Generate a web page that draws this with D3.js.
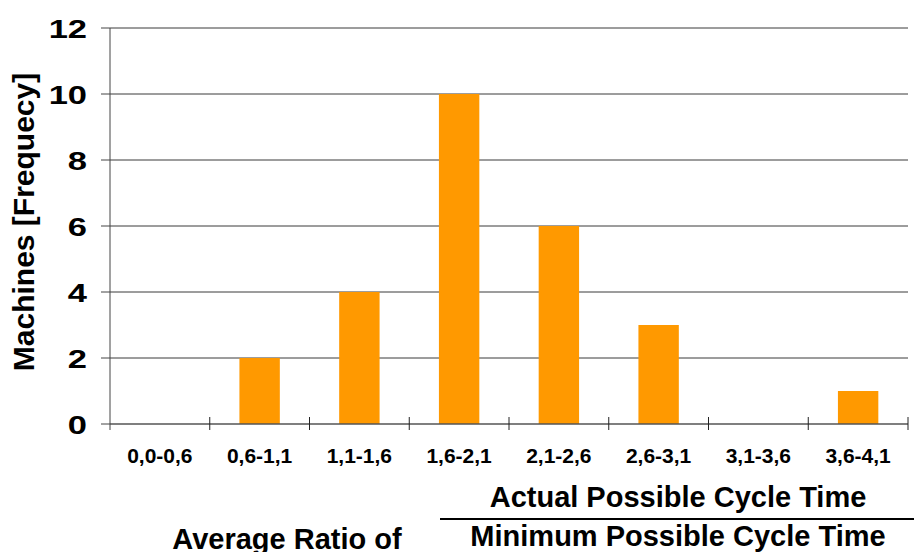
<!DOCTYPE html>
<html>
<head>
<meta charset="utf-8">
<script src="https://cdn.jsdelivr.net/npm/d3@7"></script>
<style>
  html, body { margin: 0; padding: 0; background: #fff; }
  svg { display: block; font-family: "Liberation Sans", Arial, sans-serif; font-weight: bold; }
</style>
</head>
<body>
<svg id="chart" width="914" height="552"></svg>
<script>
const categories = ["0,0-0,6", "0,6-1,1", "1,1-1,6", "1,6-2,1", "2,1-2,6", "2,6-3,1", "3,1-3,6", "3,6-4,1"];
const frequencies = [0, 2, 4, 10, 6, 3, 0, 1];
const yTicks = [0, 2, 4, 6, 8, 10, 12];
const yTitle = "Machines [Frequecy]";
const xTitleLeft = "Average Ratio of";
const xTitleNumerator = "Actual Possible Cycle Time";
const xTitleDenominator = "Minimum Possible Cycle Time";

const svg = d3.select("#chart");
const plotLeft = 110, plotRight = 908, plotTop = 28, plotBottom = 424;

const x = d3.scaleBand().domain(categories).range([plotLeft, plotRight]).padding(0);
const y = d3.scaleLinear().domain([0, 12]).range([plotBottom, plotTop]);

// gridlines
svg.append("g").selectAll("line").data(yTicks.filter(d => d > 0)).join("line")
  .attr("x1", plotLeft).attr("x2", plotRight)
  .attr("y1", d => y(d)).attr("y2", d => y(d))
  .attr("stroke", "#3a3a3a").attr("stroke-width", 1);

// bars
const barFrac = 0.405;
svg.append("g").selectAll("rect").data(frequencies.map((v, i) => ({c: categories[i], v}))).join("rect")
  .attr("x", d => x(d.c) + x.bandwidth() * (1 - barFrac) / 2)
  .attr("width", x.bandwidth() * barFrac)
  .attr("y", d => y(d.v))
  .attr("height", d => y(0) - y(d.v))
  .attr("fill", "#FF9900");

// x axis line
svg.append("line").attr("x1", plotLeft).attr("x2", plotRight).attr("y1", y(0)).attr("y2", y(0))
  .attr("stroke", "#555").attr("stroke-width", 1.5);
// x ticks at band boundaries
const bounds = categories.map(c => x(c)).concat([x(categories[categories.length - 1]) + x.bandwidth()]);
svg.append("g").selectAll("line").data(bounds.slice(1)).join("line")
  .attr("x1", d => d).attr("x2", d => d)
  .attr("y1", y(0) - 7).attr("y2", y(0) + 6)
  .attr("stroke", "#222").attr("stroke-width", 1);

// y axis line
svg.append("line").attr("x1", plotLeft).attr("x2", plotLeft).attr("y1", plotTop).attr("y2", y(0) + 6)
  .attr("stroke", "#444").attr("stroke-width", 1);
// y ticks
svg.append("g").selectAll("line").data(yTicks).join("line")
  .attr("x1", plotLeft - 9).attr("x2", plotLeft)
  .attr("y1", d => y(d)).attr("y2", d => y(d))
  .attr("stroke", "#444").attr("stroke-width", 1);

// y tick labels (wide, as in the reference)
svg.append("g").selectAll("text").data(yTicks).join("text")
  .attr("transform", d => `translate(87,${y(d) + 9.5}) scale(1.38,1)`)
  .attr("text-anchor", "end")
  .attr("font-size", 25)
  .text(d => d);

// x tick labels
svg.append("g").selectAll("text").data(categories).join("text")
  .attr("x", d => x(d) + x.bandwidth() / 2)
  .attr("y", 463)
  .attr("text-anchor", "middle")
  .attr("font-size", 21)
  .text(d => d);

// y title
svg.append("text")
  .attr("transform", "translate(34,222) rotate(-90)")
  .attr("text-anchor", "middle")
  .attr("font-size", 30)
  .text(yTitle);

// x titles
svg.append("text").attr("x", 678).attr("y", 507).attr("text-anchor", "middle")
  .attr("font-size", 29).text(xTitleNumerator);
svg.append("line").attr("x1", 440).attr("x2", 914).attr("y1", 519).attr("y2", 519)
  .attr("stroke", "#000").attr("stroke-width", 2);
svg.append("text").attr("x", 678).attr("y", 546).attr("text-anchor", "middle")
  .attr("font-size", 29).text(xTitleDenominator);
svg.append("text").attr("x", 287).attr("y", 549).attr("text-anchor", "middle")
  .attr("font-size", 29).text(xTitleLeft);
</script>
</body>
</html>
